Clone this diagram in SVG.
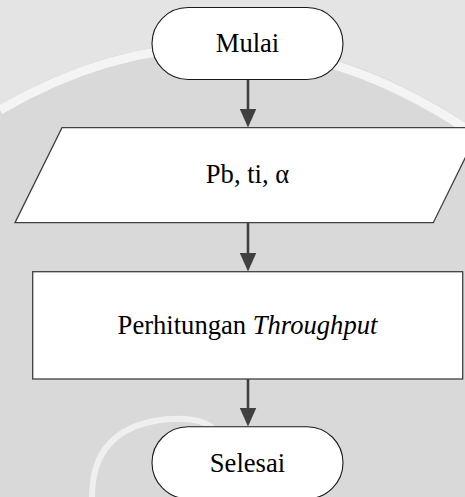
<svg xmlns="http://www.w3.org/2000/svg" width="465" height="497" viewBox="0 0 465 497">
  <style>
    .term { fill: #ffffff; stroke: #1a1a1a; stroke-width: 1.1; }
    .box { fill: #ffffff; stroke: #404040; stroke-width: 1.3; }
    .lbl { font-family: "Liberation Serif", "Times New Roman", serif; font-size: 26.6px; fill: #000000; text-anchor: middle; }
    .conn { stroke: #404040; stroke-width: 2.6; fill: none; }
    .wm { fill: none; stroke: #f4f4f4; }
  </style>
  <defs>
    <marker id="arrow" viewBox="0 0 19 17" refX="15" refY="8.5" markerWidth="19" markerHeight="17" markerUnits="userSpaceOnUse" orient="auto">
      <path d="M0,0 L19,8.5 L0,17 z" fill="#404040"/>
    </marker>
  </defs>

  <g id="background">
    <rect x="0" y="0" width="465" height="497" fill="#d9d9d9"/>
    <path d="M0,105 Q232,-30 465,122 L465,0 L0,0 z" fill="#e4e4e4"/>
    <path class="wm" d="M0,110 Q232,-25 465,128" stroke-width="9"/>
    <path class="wm" d="M92,497 Q92,430 160,420 Q200,415 215,430" stroke-width="6" opacity="0.8"/>
  </g>

  <g id="connectors">
    <line class="conn" x1="248" y1="79.5" x2="248" y2="123.5" marker-end="url(#arrow)"/>
    <line class="conn" x1="248" y1="223" x2="248" y2="267.5" marker-end="url(#arrow)"/>
    <line class="conn" x1="248" y1="379" x2="248" y2="422.5" marker-end="url(#arrow)"/>
  </g>

  <g id="mulai">
    <rect class="term" x="152" y="7.5" width="191" height="72" rx="36" ry="36"/>
    <text class="lbl" x="247.5" y="52">Mulai</text>
  </g>

  <g id="input">
    <polygon class="box" points="62,127.7 480,127.7 433.3,222.7 15,222.7"/>
    <text class="lbl" x="247.5" y="183">Pb, ti, α</text>
  </g>

  <g id="proses">
    <rect class="box" x="32.7" y="271.7" width="430" height="107.3"/>
    <text class="lbl" x="247.5" y="333.5">Perhitungan <tspan font-style="italic">Throughput</tspan></text>
  </g>

  <g id="selesai">
    <rect class="term" x="152" y="426.7" width="191" height="72" rx="36" ry="36"/>
    <text class="lbl" x="247.5" y="471.5">Selesai</text>
  </g>
</svg>
